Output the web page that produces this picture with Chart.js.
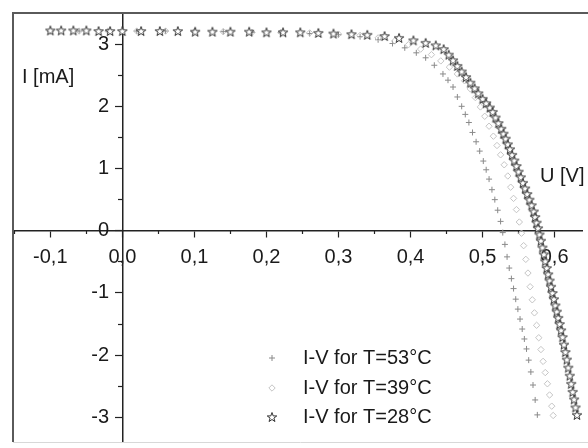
<!DOCTYPE html>
<html><head><meta charset="utf-8">
<script src="https://cdn.jsdelivr.net/npm/chart.js@4/dist/chart.umd.min.js"></script>
<style>html,body{margin:0;padding:0;background:#fff;}#wrap{width:588px;height:448px;position:relative;}</style>
</head><body><div id="wrap"><canvas id="c" width="588" height="448"></canvas></div>
<script>
// ---- data ----
const seriesLabels = ['I-V for T=53\u00B0C', 'I-V for T=39\u00B0C', 'I-V for T=28\u00B0C'];

const v53 = [-0.100,-0.060,-0.020,0.020,0.060,0.100,0.140,0.180,0.220,0.260,0.300,0.330,0.355,0.375,0.392,0.408,0.421,0.433,0.445,0.452,0.459,
  0.465,0.471,0.476,0.481,0.486,0.491,0.496,0.501,0.505,0.509,0.513,0.517,0.521,0.525,0.528,0.531,0.534,0.537,0.540,0.543,0.546,0.549,0.552,0.555,0.558,0.561,0.564,0.567,0.570,0.573,0.576];
const i53 = [3.21,3.21,3.21,3.21,3.21,3.20,3.20,3.19,3.18,3.17,3.15,3.12,3.07,3.01,2.94,2.86,2.78,2.66,2.52,2.42,2.31,
  2.15,2.00,1.87,1.74,1.58,1.43,1.28,1.12,0.98,0.83,0.66,0.50,0.33,0.15,-0.03,-0.22,-0.42,-0.60,-0.77,-0.93,-1.10,-1.26,-1.42,-1.58,-1.74,-1.90,-2.08,-2.27,-2.48,-2.72,-2.96];

const v39 = [-0.100,-0.060,-0.020,0.020,0.060,0.100,0.140,0.180,0.220,0.260,0.300,0.330,0.355,0.378,0.397,0.414,0.429,0.442,0.454,0.465,0.475,0.483,0.490,0.497,0.503,0.509,0.515,0.520,0.525,0.530,
  0.535,0.539,0.543,0.547,0.551,0.554,0.557,0.560,0.563,0.566,0.569,0.572,0.575,0.578,0.581,0.584,0.587,0.590,0.593,0.596,0.598];
const i39 = [3.21,3.21,3.21,3.21,3.21,3.20,3.20,3.19,3.19,3.18,3.16,3.14,3.10,3.05,2.99,2.92,2.83,2.73,2.63,2.52,2.41,2.28,2.14,1.99,1.84,1.68,1.52,1.37,1.22,1.06,
  0.88,0.70,0.52,0.34,0.14,-0.04,-0.24,-0.46,-0.68,-0.90,-1.11,-1.32,-1.52,-1.72,-1.91,-2.10,-2.28,-2.46,-2.64,-2.82,-2.97];

const v28 = [-0.100,-0.085,-0.068,-0.050,-0.033,-0.017,0.000,0.026,0.052,0.077,0.101,0.125,0.150,0.176,0.200,0.223,0.247,0.272,0.293,0.318,0.340,0.364,0.384,0.404,0.421,0.435,0.446,
  0.453,0.459,0.465,0.471,0.477,0.483,0.489,0.494,0.500,0.505,0.510,0.514,0.518,0.522,0.526,0.529,0.532,0.535,0.538,0.541,0.544,0.547,0.550,0.553,0.556,0.559,0.562,0.565,0.568,0.571,0.573,0.575,0.577,
  0.579,0.581,0.583,0.585,0.587,0.589,0.591,0.593,0.595,0.597,0.599,0.601,0.603,0.605,0.607,0.609,0.611,0.613,0.615,0.617,0.619,0.621,0.623,0.625,0.627,0.629,0.631];
const i28 = [3.22,3.22,3.22,3.22,3.21,3.21,3.21,3.21,3.21,3.21,3.20,3.20,3.20,3.20,3.19,3.19,3.19,3.18,3.17,3.16,3.15,3.13,3.10,3.06,3.02,2.98,2.92,
  2.83,2.74,2.65,2.56,2.47,2.38,2.29,2.21,2.12,2.05,1.98,1.91,1.82,1.73,1.64,1.56,1.48,1.39,1.31,1.22,1.13,1.04,0.95,0.86,0.77,0.68,0.59,0.50,0.41,0.31,0.22,0.13,0.04,
  -0.06,-0.16,-0.27,-0.38,-0.49,-0.60,-0.70,-0.80,-0.90,-1.00,-1.10,-1.20,-1.30,-1.40,-1.50,-1.60,-1.71,-1.83,-1.95,-2.07,-2.20,-2.33,-2.46,-2.59,-2.71,-2.84,-2.96];

const xMajorTicks = [-0.1, 0.0, 0.1, 0.2, 0.3, 0.4, 0.5, 0.6];
const xMinorTicks = [-0.15, -0.05, 0.05, 0.15, 0.25, 0.35, 0.45, 0.55];
const yMajorTicks = [-3, -2, -1, 0, 1, 2, 3];
const yMinorTicks = [-2.5, -1.5, -0.5, 0.5, 1.5, 2.5];
const xTitle = 'U [V]';
const yTitle = 'I [mA]';

// ---- rendering ----
const FONT = "'Liberation Sans', Arial, sans-serif";
const X_MIN = -0.1518, X_MAX = 0.638, Y_MIN = -3.396, Y_MAX = 3.5;
function pts(v, i) { return v.map((x, k) => ({x: x, y: i[k]})); }
function makeStar() {
  const c = document.createElement('canvas'); c.width = 12; c.height = 12;
  const g = c.getContext('2d'); g.beginPath();
  for (let k = 0; k < 10; k++) {
    const r = k % 2 ? 2.0 : 5.0, a = -Math.PI / 2 + k * Math.PI / 5;
    const px = 6 + r * Math.cos(a), py = 6.5 + r * Math.sin(a);
    if (k) g.lineTo(px, py); else g.moveTo(px, py);
  }
  g.closePath(); g.fillStyle = '#fff'; g.fill();
  g.strokeStyle = '#333'; g.lineWidth = 1; g.stroke();
  return c;
}
const starImg = makeStar();

const tickLabelFont = {family: FONT, size: 20};
const mkTicks = arr => s => { s.ticks = arr.map(v => ({value: v})); };
const fitH = s => { s.height = 0; s.paddingLeft = 0; s.paddingRight = 0; s.paddingTop = 0; s.paddingBottom = 0; };
const fitV = s => { s.width = 0; s.paddingLeft = 0; s.paddingRight = 0; s.paddingTop = 0; s.paddingBottom = 0; };

const deco = {
  id: 'deco',
  afterDraw(chart) {
    const ctx = chart.ctx, a = chart.chartArea;
    ctx.save();
    // frame
    ctx.strokeStyle = '#5a5a5a'; ctx.lineWidth = 2;
    ctx.beginPath(); ctx.moveTo(a.left, a.bottom); ctx.lineTo(a.left, a.top); ctx.lineTo(588, a.top); ctx.stroke();
    ctx.strokeStyle = '#d8d8d8'; ctx.lineWidth = 1;
    ctx.beginPath(); ctx.moveTo(a.left, a.bottom + 0.5); ctx.lineTo(588, a.bottom + 0.5); ctx.stroke();
    // axis titles
    ctx.fillStyle = '#1a1a1a'; ctx.font = '20px ' + FONT; ctx.textBaseline = 'middle'; ctx.textAlign = 'left';
    ctx.fillText(yTitle, 22, 77);
    ctx.fillText(xTitle, 540, 176);
    // legend
    const rows = [358, 388, 417];
    chart.data.datasets.forEach((ds, k) => {
      const y = rows[k];
      ctx.strokeStyle = ds.borderColor; ctx.fillStyle = ds.backgroundColor; ctx.lineWidth = ds.borderWidth;
      Chart.helpers.drawPoint(ctx, {pointStyle: ds.pointStyle, radius: ds.pointRadius, borderWidth: ds.borderWidth, rotation: 0}, 272, y);
      ctx.fillStyle = '#1a1a1a';
      ctx.fillText(ds.label, 303, y);
    });
    ctx.restore();
  }
};

new Chart(document.getElementById('c'), {
  type: 'scatter',
  data: {
    datasets: [
      {label: seriesLabels[0], data: pts(v53, i53), pointStyle: 'cross', pointRadius: 3, borderWidth: 1, borderColor: '#8a8a8a', backgroundColor: '#8a8a8a', order: 2},
      {label: seriesLabels[1], data: pts(v39, i39), pointStyle: 'rectRot', pointRadius: 3.2, borderWidth: 1, borderColor: '#c4c4c4', backgroundColor: 'rgba(255,255,255,0)', order: 1},
      {label: seriesLabels[2], data: pts(v28, i28), pointStyle: starImg, pointRadius: 5, borderWidth: 1, borderColor: '#333', backgroundColor: '#fff', order: 0}
    ]
  },
  options: {
    responsive: false, animation: false, devicePixelRatio: 1,
    layout: {padding: {left: 13, top: 13, right: 0, bottom: 4}},
    plugins: {legend: {display: false}, tooltip: {enabled: false}},
    elements: {point: {hoverRadius: 0}},
    scales: {
      x: {type: 'linear', min: X_MIN, max: X_MAX, position: {y: 0},
        afterFit: fitH, afterBuildTicks: mkTicks(xMajorTicks),
        ticks: {callback: v => v.toFixed(1).replace('.', ','), font: tickLabelFont, color: '#1a1a1a', maxRotation: 0, autoSkip: false, includeBounds: false, padding: 9},
        grid: {drawOnChartArea: false, drawTicks: true, tickLength: 6, tickColor: '#222', tickWidth: 1.2},
        border: {display: true, color: '#222', width: 1.5}},
      x2: {type: 'linear', axis: 'x', min: X_MIN, max: X_MAX, position: {y: 0},
        afterFit: fitH, afterBuildTicks: mkTicks(xMinorTicks),
        ticks: {display: false},
        grid: {drawOnChartArea: false, drawTicks: true, tickLength: 3, tickColor: '#222', tickWidth: 1.2},
        border: {display: false}},
      y: {type: 'linear', min: Y_MIN, max: Y_MAX, position: {x: 0},
        afterFit: fitV, afterBuildTicks: mkTicks(yMajorTicks),
        ticks: {display: false},
        grid: {drawOnChartArea: false, drawTicks: true, tickLength: 7, tickColor: '#222', tickWidth: 1.2},
        border: {display: true, color: '#222', width: 1.5}},
      y2: {type: 'linear', axis: 'y', min: Y_MIN, max: Y_MAX, position: {x: 0},
        afterFit: fitV, afterBuildTicks: mkTicks(yMinorTicks),
        ticks: {display: false},
        grid: {drawOnChartArea: false, drawTicks: true, tickLength: 4, tickColor: '#222', tickWidth: 1.2},
        border: {display: false}},
      yLabels: {type: 'linear', axis: 'y', min: Y_MIN, max: Y_MAX, position: {x: -0.0185},
        afterFit: fitV, afterBuildTicks: mkTicks(yMajorTicks),
        ticks: {callback: v => String(v), font: tickLabelFont, color: '#1a1a1a', autoSkip: false, includeBounds: false, padding: 0},
        grid: {display: false, drawTicks: false},
        border: {display: false}}
    }
  },
  plugins: [deco]
});
</script></body></html>
